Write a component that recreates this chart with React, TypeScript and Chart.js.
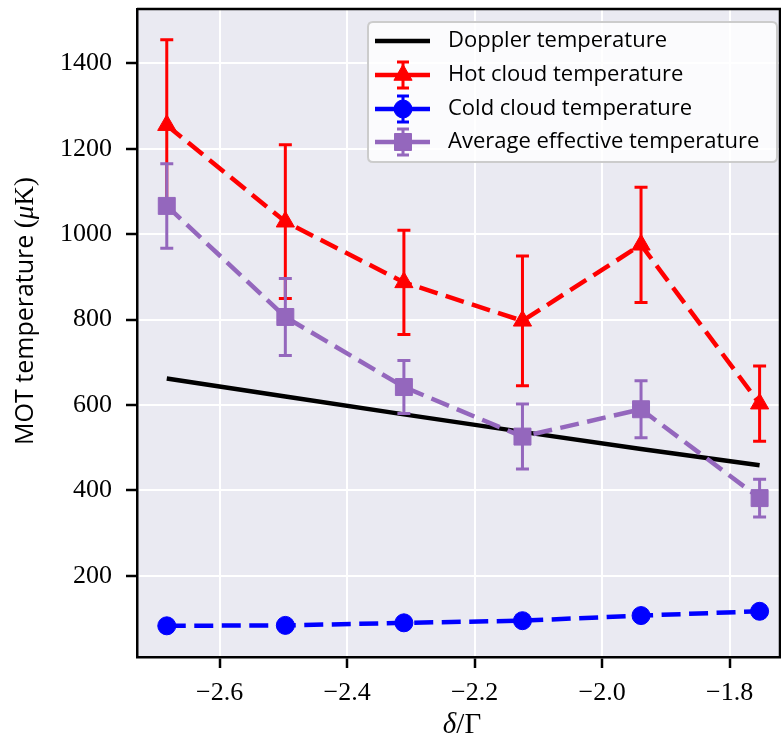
import React, { useEffect, useRef } from "react";
import Chart from "chart.js/auto";

// ---- data ----
const detuning = [-2.683, -2.497, -2.311, -2.125, -1.939, -1.753];
const dopplerTemp = [662, 620, 578, 537, 497, 459];
const hotTemp = [1255, 1029, 887, 797, 975, 603];
const hotErr = [200, 180, 122, 152, 135, 88];
const coldTemp = [83, 84, 90, 95, 107, 117];
const coldErr = [5, 5, 5, 5, 6, 6];
const avgTemp = [1066, 806, 642, 526, 590, 382];
const avgErr = [99, 90, 62, 76, 67, 44];

const xTicks = [-2.6, -2.4, -2.2, -2.0, -1.8];
const yTicks = [200, 400, 600, 800, 1000, 1200, 1400];
const xMin = -2.7297;
const xMax = -1.721;
const yMin = 10;
const yMax = 1527;

const seriesLabels = [
  "Doppler temperature",
  "Hot cloud temperature",
  "Cold cloud temperature",
  "Average effective temperature",
];
const seriesColors = ["#000000", "#ff0000", "#0000ff", "#9467bd"];
const seriesMarkers = ["none", "triangle", "circle", "rect"];
const markerRadii = [0, 10.5, 9, 12];

const SANS = "'Open Sans', 'DejaVu Sans', sans-serif";
const SERIF = "'Liberation Serif', 'DejaVu Serif', serif";
const LINE_W = 4.5;
const DASH = [19, 8.5];
const ERR_W = 3;

function drawMarker(ctx: CanvasRenderingContext2D, style: string, x: number, y: number, r: number, color: string) {
  ctx.save();
  ctx.fillStyle = color;
  ctx.strokeStyle = color;
  ctx.lineWidth = 1;
  ctx.setLineDash([]);
  ctx.beginPath();
  if (style === "triangle") {
    let rad = 0;
    ctx.moveTo(x + Math.sin(rad) * r, y - Math.cos(rad) * r);
    rad += (2 * Math.PI) / 3;
    ctx.lineTo(x + Math.sin(rad) * r, y - Math.cos(rad) * r);
    rad += (2 * Math.PI) / 3;
    ctx.lineTo(x + Math.sin(rad) * r, y - Math.cos(rad) * r);
    ctx.closePath();
  } else if (style === "circle") {
    ctx.arc(x, y, r, 0, Math.PI * 2);
  } else if (style === "rect") {
    const s = Math.SQRT1_2 * r;
    ctx.rect(x - s, y - s, 2 * s, 2 * s);
  }
  ctx.fill();
  ctx.stroke();
  ctx.restore();
}

const zeroPad = (s: any) => {
  s.paddingLeft = 0;
  s.paddingRight = 0;
  s.paddingTop = 0;
  s.paddingBottom = 0;
};

export default function App() {
  const ref = useRef<HTMLCanvasElement>(null);

  useEffect(() => {
    const canvas = ref.current;
    if (!canvas) return;
    const errs: (number[] | null)[] = [null, hotErr, coldErr, avgErr];

    const bgPlugin = {
      id: "bg",
      beforeDraw(chart: any) {
        const { ctx, chartArea: a } = chart;
        ctx.save();
        ctx.fillStyle = "#ffffff";
        ctx.fillRect(0, 0, chart.width, chart.height);
        ctx.fillStyle = "#eaeaf2";
        ctx.fillRect(a.left, a.top, a.right - a.left, a.bottom - a.top);
        ctx.restore();
      },
    };

    const errPlugin = {
      id: "errbars",
      beforeDatasetDraw(chart: any, args: any) {
        const i = args.index;
        const e = errs[i];
        if (!e) return;
        const ctx = chart.ctx;
        const xs = chart.scales.x;
        const ys = chart.scales.y;
        const data = chart.data.datasets[i].data;
        ctx.save();
        ctx.strokeStyle = seriesColors[i];
        ctx.lineWidth = ERR_W;
        ctx.setLineDash([]);
        data.forEach((p: any, j: number) => {
          const px = xs.getPixelForValue(p.x);
          const top = ys.getPixelForValue(p.y + e[j]);
          const bot = ys.getPixelForValue(p.y - e[j]);
          ctx.beginPath();
          ctx.moveTo(px, top);
          ctx.lineTo(px, bot);
          ctx.moveTo(px - 6.5, top);
          ctx.lineTo(px + 6.5, top);
          ctx.moveTo(px - 6.5, bot);
          ctx.lineTo(px + 6.5, bot);
          ctx.stroke();
        });
        ctx.restore();
      },
    };

    const decorPlugin = {
      id: "decor",
      afterDraw(chart: any) {
        const { ctx, chartArea: a } = chart;
        ctx.save();
        // top and right spines
        ctx.strokeStyle = "#000";
        ctx.lineWidth = 2.5;
        ctx.beginPath();
        ctx.moveTo(a.left, a.top);
        ctx.lineTo(a.right, a.top);
        ctx.lineTo(a.right, a.bottom);
        ctx.stroke();

        // y axis title (mixed fonts)
        ctx.fillStyle = "#000";
        ctx.textBaseline = "alphabetic";
        ctx.textAlign = "left";
        const parts = [
          { t: "MOT temperature ", f: `25px ${SANS}` },
          { t: "(", f: `27px ${SERIF}` },
          { t: "\u03bc", f: `italic 27px ${SERIF}` },
          { t: "K)", f: `27px ${SERIF}` },
        ];
        let total = 0;
        const widths = parts.map((p) => {
          ctx.font = p.f;
          const w = ctx.measureText(p.t).width;
          total += w;
          return w;
        });
        ctx.save();
        ctx.translate(33, 311);
        ctx.rotate(-Math.PI / 2);
        let cx = -total / 2;
        parts.forEach((p, k) => {
          ctx.font = p.f;
          ctx.fillText(p.t, cx, 0);
          cx += widths[k];
        });
        ctx.restore();

        // x axis title
        const xparts = [
          { t: "\u03b4", f: `italic 29px ${SERIF}` },
          { t: "/\u0393", f: `29px ${SERIF}` },
        ];
        let xt = 0;
        const xw = xparts.map((p) => {
          ctx.font = p.f;
          const w = ctx.measureText(p.t).width;
          xt += w;
          return w;
        });
        let xx = 462 - xt / 2;
        xparts.forEach((p, k) => {
          ctx.font = p.f;
          ctx.fillText(p.t, xx, 733);
          xx += xw[k];
        });

        // legend
        const lx = 368, ly = 22, lw = 409, lh = 140, rr = 5;
        ctx.beginPath();
        ctx.moveTo(lx + rr, ly);
        ctx.lineTo(lx + lw - rr, ly);
        ctx.quadraticCurveTo(lx + lw, ly, lx + lw, ly + rr);
        ctx.lineTo(lx + lw, ly + lh - rr);
        ctx.quadraticCurveTo(lx + lw, ly + lh, lx + lw - rr, ly + lh);
        ctx.lineTo(lx + rr, ly + lh);
        ctx.quadraticCurveTo(lx, ly + lh, lx, ly + lh - rr);
        ctx.lineTo(lx, ly + rr);
        ctx.quadraticCurveTo(lx, ly, lx + rr, ly);
        ctx.closePath();
        ctx.fillStyle = "rgba(255,255,255,0.8)";
        ctx.fill();
        ctx.strokeStyle = "#cccccc";
        ctx.lineWidth = 2;
        ctx.stroke();

        const rowY = [41, 75, 109, 142];
        seriesLabels.forEach((lab, i) => {
          const y = rowY[i];
          const c = seriesColors[i];
          ctx.strokeStyle = c;
          ctx.lineWidth = LINE_W;
          ctx.setLineDash([]);
          ctx.beginPath();
          ctx.moveTo(375, y);
          ctx.lineTo(430, y);
          ctx.stroke();
          if (errs[i]) {
            ctx.lineWidth = ERR_W;
            ctx.beginPath();
            ctx.moveTo(403, y - 13);
            ctx.lineTo(403, y + 13);
            ctx.moveTo(397, y - 13);
            ctx.lineTo(409, y - 13);
            ctx.moveTo(397, y + 13);
            ctx.lineTo(409, y + 13);
            ctx.stroke();
            drawMarker(ctx, seriesMarkers[i], 403, y, markerRadii[i], c);
          }
          ctx.fillStyle = "#000";
          ctx.font = `22px ${SANS}`;
          ctx.textBaseline = "middle";
          ctx.fillText(lab, 448, y);
        });
        ctx.restore();
      },
    };

    const mk = (vals: number[]) => detuning.map((x, i) => ({ x, y: vals[i] }));
    const dashedSeries = (i: number, vals: number[], order: number) => ({
      label: seriesLabels[i],
      data: mk(vals),
      borderColor: seriesColors[i],
      backgroundColor: seriesColors[i],
      borderWidth: LINE_W,
      borderDash: DASH,
      pointStyle: seriesMarkers[i],
      pointRadius: markerRadii[i],
      pointBorderWidth: 1,
      pointBackgroundColor: seriesColors[i],
      pointBorderColor: seriesColors[i],
      tension: 0,
      order,
    });

    const chart = new Chart(canvas, {
      type: "line",
      data: {
        datasets: [
          {
            label: seriesLabels[0],
            data: mk(dopplerTemp),
            borderColor: seriesColors[0],
            backgroundColor: seriesColors[0],
            borderWidth: LINE_W,
            pointRadius: 0,
            tension: 0,
            order: 3,
          },
          dashedSeries(1, hotTemp, 2),
          dashedSeries(2, coldTemp, 1),
          dashedSeries(3, avgTemp, 0),
        ],
      },
      options: {
        responsive: false,
        animation: false,
        layout: { autoPadding: false, padding: { left: 0, top: 9, right: 1, bottom: 0 } },
        plugins: { legend: { display: false }, tooltip: { enabled: false } },
        scales: {
          x: {
            type: "linear",
            min: xMin,
            max: xMax,
            afterBuildTicks: (s: any) => {
              s.ticks = xTicks.map((v) => ({ value: v }));
            },
            afterFit: (s: any) => {
              s.height = 95;
              zeroPad(s);
            },
            grid: { color: "#ffffff", lineWidth: 2, tickColor: "#000", tickWidth: 2.5, tickLength: 11 },
            border: { display: true, color: "#000", width: 2.5 },
            ticks: {
              color: "#000",
              font: { family: SERIF, size: 26 },
              padding: 10,
              maxRotation: 0,
              autoSkip: false,
              callback: (v: any) => Number(v).toFixed(1).replace("-", "\u2212"),
            },
          },
          y: {
            type: "linear",
            min: yMin,
            max: yMax,
            afterBuildTicks: (s: any) => {
              s.ticks = yTicks.map((v) => ({ value: v }));
            },
            afterFit: (s: any) => {
              s.width = 137;
              zeroPad(s);
            },
            grid: { color: "#ffffff", lineWidth: 2, tickColor: "#000", tickWidth: 2.5, tickLength: 11 },
            border: { display: true, color: "#000", width: 2.5 },
            ticks: {
              color: "#000",
              font: { family: SERIF, size: 26 },
              padding: 14,
              autoSkip: false,
              callback: (v: any) => String(v),
            },
          },
        },
      },
      plugins: [bgPlugin, errPlugin, decorPlugin],
    } as any);

    return () => chart.destroy();
  }, []);

  return (
    <div style={{ position: "fixed", left: 0, top: 0, width: 781, height: 752, background: "#fff" }}>
      <canvas ref={ref} width={781} height={752} style={{ display: "block", width: 781, height: 752 }} />
    </div>
  );
}
